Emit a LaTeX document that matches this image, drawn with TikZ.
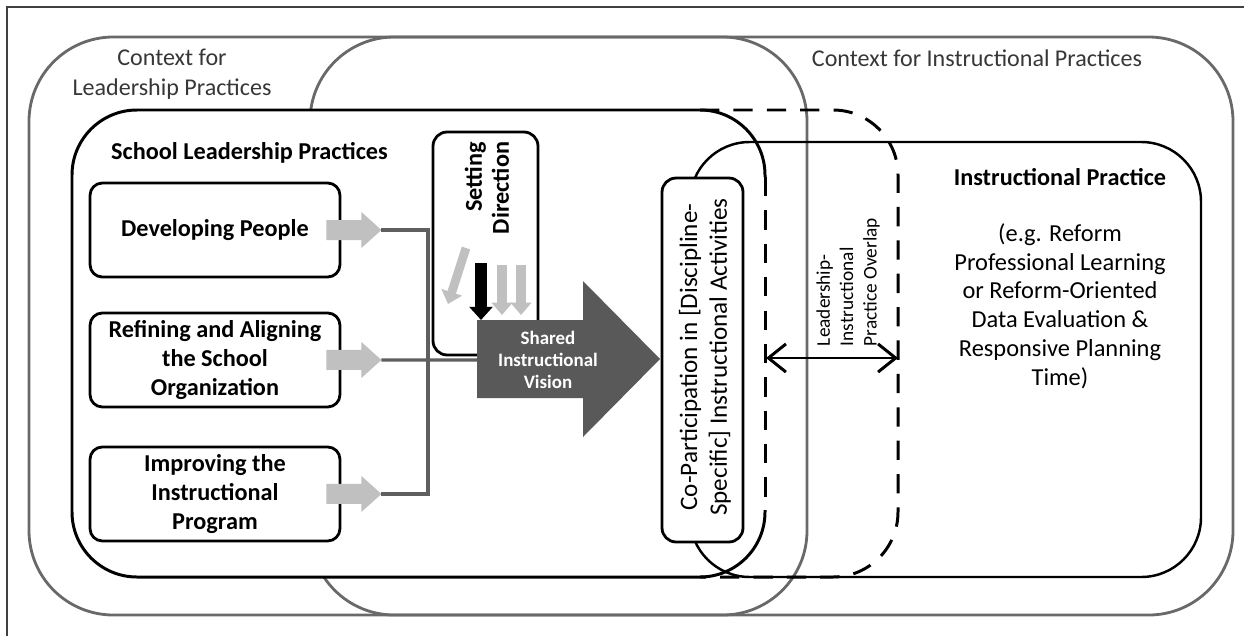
\documentclass[tikz,border=0pt]{standalone}
\usepackage{fontspec}
\setmainfont{Carlito}
\usetikzlibrary{arrows.meta,positioning}
\definecolor{ctxGray}{RGB}{105,105,105}
\definecolor{busGray}{RGB}{95,95,95}
\definecolor{tipGray}{RGB}{192,192,192}
\definecolor{visGray}{RGB}{89,89,89}
\definecolor{ctxText}{RGB}{55,55,55}

\begin{document}
\begin{tikzpicture}[
  x=0.02cm, y=-0.02cm,
  ctx/.style={draw=ctxGray, line width=1.6pt, rounded corners=48pt},
  lead/.style={draw=black, line width=1.7pt, rounded corners=37pt},
  ovl/.style={draw=black, line width=1.7pt, dash pattern=on 11pt off 8pt, rounded corners=37pt},
  pbox/.style={draw=black, line width=1.6pt, rounded corners=7pt, fill=white, align=center,
    minimum width=5cm, minimum height=1.88cm, inner sep=2pt, font=\fontsize{13.8}{16.5}\selectfont\bfseries},
  vbox/.style={draw=black, line width=1.6pt, rounded corners=8pt, fill=white},
  busline/.style={draw=busGray, line width=1.8pt},
  ctxlbl/.style={text=ctxText, align=center, font=\fontsize{13.7}{17}\selectfont},
  ttl/.style={font=\fontsize{13.8}{16.5}\selectfont\bfseries},
  body/.style={align=center, font=\fontsize{13.9}{16.4}\selectfont},
  dbl/.style={{Straight Barb[length=10pt,width=16pt]}-{Straight Barb[length=10pt,width=16pt]}, line width=1.7pt}
]
\useasboundingbox (0,0) rectangle (1244,636);
\draw[black!75, line width=0.6pt] (7,636) -- (7,7) -- (1244,7);

\draw[ctx] (29,37) rectangle (807,615);
\draw[ctx] (310,37) rectangle (1233,615);
\fill[white, rounded corners=37pt] (72,110) rectangle (765,577);
\draw[lead] (765,177) -- (765,110) -- (72,110) -- (72,577) -- (765,577) -- (765,510);
\draw[black, line width=1.4pt, rounded corners=34pt] (690,142) rectangle (1201,577);
\draw[ovl] (700,110) -- (898,110) -- (898,577) -- (700,577);
\draw[ovl, rounded corners=0pt] (765,177) -- (765,510);

\node[ctxlbl] (ctxLead) at (172,74) {Context for\\Leadership Practices};
\node[ctxlbl] (ctxInstr) at (977,58) {Context for Instructional Practices};
\node[ttl, anchor=west] (slp) at (105,153) {School Leadership Practices};
\node[ttl] (instr) at (1060,177) {Instructional Practice};
\node[body] (instrEx) at (1060,306) {(e.g. Reform\\Professional Learning\\or Reform-Oriented\\Data Evaluation \&\\Responsive Planning\\Time)};

\node[pbox] (dp) at (215,230) {Developing People};
\node[pbox, below=0.664cm of dp] (ra) {Refining and Aligning\\the School\\Organization};
\node[pbox, below=0.744cm of ra] (ip) {Improving the\\Instructional\\Program};

\foreach \n in {dp,ra,ip}
  \fill[tipGray] (\n.east) ++(-15,-10) -- ++(35,0) -- ++(0,-8) -- ++(20,18) coordinate (\n-tip)
    -- ++(-20,18) -- ++(0,-8) -- ++(-35,0) -- cycle;

\node[vbox, minimum width=2.1cm, minimum height=4.46cm] (sd) at (485.5,243.5) {};
\node[ttl, rotate=90, align=right, font=\fontsize{13.8}{15.4}\selectfont\bfseries] (sdLbl) at (487,188) {Setting\\Direction};
\draw[tipGray, line width=5pt, -{Triangle[length=7pt,width=12pt]}] (466,248) -- (448,304);
\draw[black, line width=6.5pt, -{Triangle[length=7.5pt,width=13pt]}] (481,263) -- (481,320);
\foreach \x in {502,521}
  \draw[tipGray, line width=5.5pt, -{Triangle[length=7pt,width=11.5pt]}] (\x,265) -- (\x,315);

\fill[visGray] (477,320) -- (583,320) -- (583,281) -- (660,359) coordinate (vis-tip)
  -- (583,437) -- (583,398) -- (477,398) -- cycle;
\coordinate (vis-tail) at (477,360);
\node[text=white, align=center, font=\fontsize{10.8}{12.6}\selectfont\bfseries] (vision) at (548,360) {Shared\\Instructional\\Vision};

\coordinate (busJoin) at (428,360);
\draw[busline] (dp-tip) -| (busJoin) |- (ip-tip);
\draw[busline] (ra-tip) -- (vis-tail);

\node[vbox, minimum width=1.62cm, minimum height=7.28cm] (cop) at (702.5,360) {};
\node[rotate=90, align=center, font=\fontsize{14.3}{17}\selectfont] (copLbl) at (705,357) {Co-Participation in [Discipline-\\Specific] Instructional Activities};

\coordinate (ov-l) at (766,358);
\coordinate (ov-r) at (898,358);
\draw[dbl] (ov-l) -- (ov-r);
\node[rotate=90, align=left, font=\fontsize{11}{13.3}\selectfont] (ovLbl) at (848,282) {Leadership-\\Instructional\\Practice Overlap};
\end{tikzpicture}
\end{document}
